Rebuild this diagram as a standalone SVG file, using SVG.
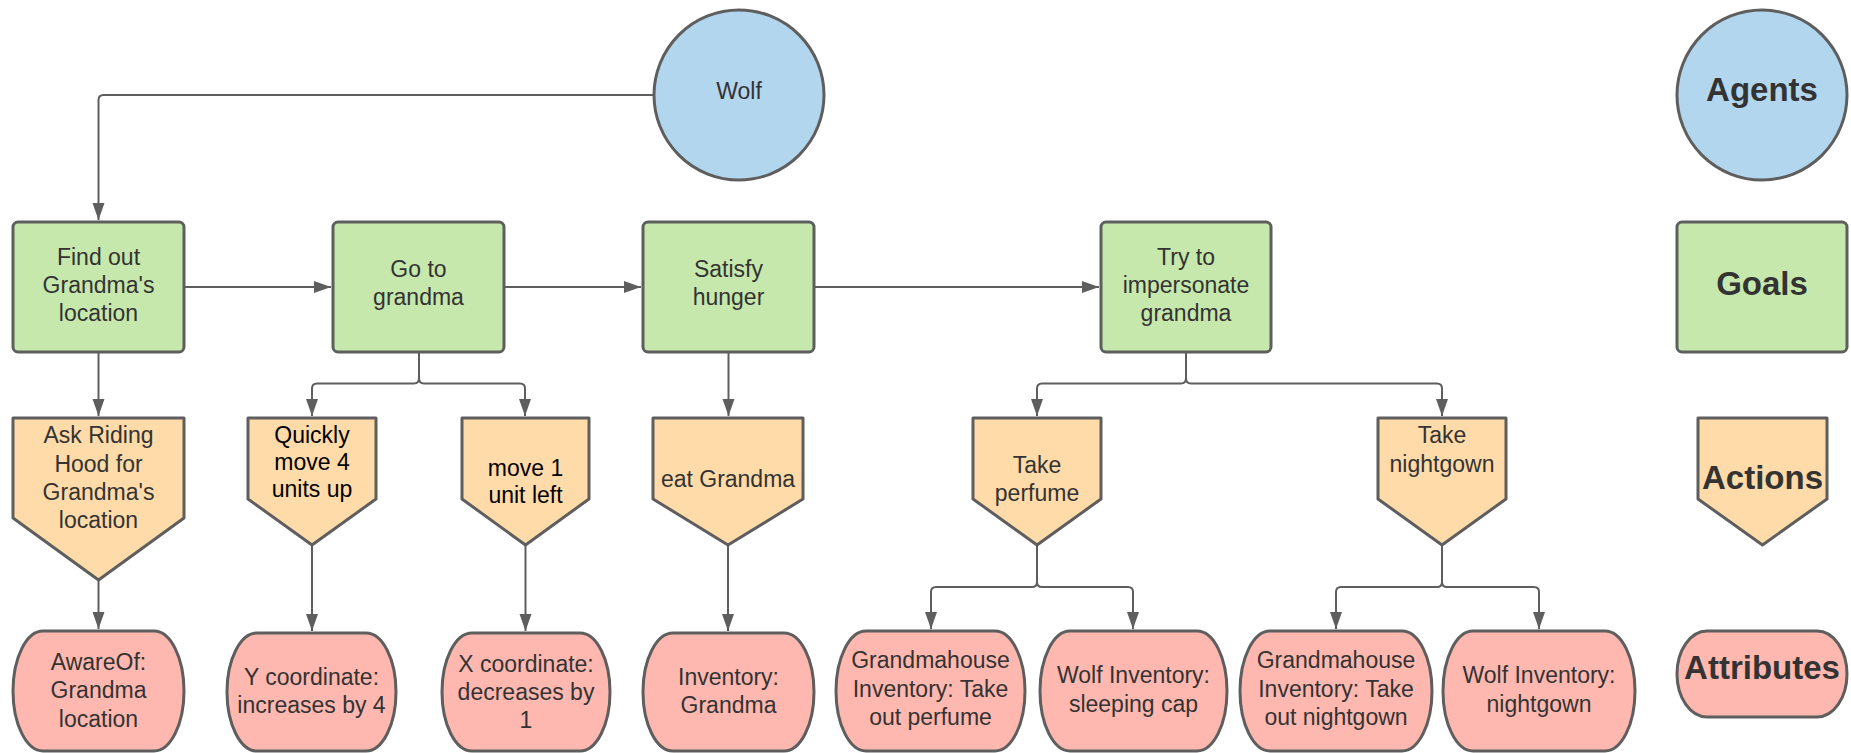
<svg xmlns="http://www.w3.org/2000/svg" width="1851" height="753" viewBox="0 0 1851 753">
<defs>
<marker id="arr" markerUnits="userSpaceOnUse" markerWidth="18" markerHeight="13" refX="17" refY="6" orient="auto">
<path d="M0,0 L17,6 L0,12 Z" fill="#5e5e5e"/>
</marker>
<style>
.agent{fill:#b3d6ef;stroke:#5e5e5e;stroke-width:3}
.goal{fill:#c7e8ac;stroke:#5e5e5e;stroke-width:3}
.act{fill:#ffdba9;stroke:#5e5e5e;stroke-width:3;stroke-linejoin:round}
.attr{fill:#ffb8b0;stroke:#5e5e5e;stroke-width:3}
.c{fill:none;stroke:#5e5e5e;stroke-width:2;marker-end:url(#arr)}
.cl{fill:none;stroke:#5e5e5e;stroke-width:2}
text{font-family:"Liberation Sans",Arial,sans-serif;font-size:23px;fill:#333;text-anchor:middle}
.k{fill:#000}
.b{font-weight:bold;font-size:33px}
</style>
</defs>
<rect width="1851" height="753" fill="#fff"/>

<g id="connectors">
<path class="c" d="M653,95 H103.5 Q98.5,95 98.5,100 V220"/>
<path class="c" d="M184,287 H331"/>
<path class="c" d="M504,287 H641"/>
<path class="c" d="M814,287 H1099"/>
<path class="c" d="M98.5,352 V416"/>
<path class="cl" d="M419,352 V378"/>
<path class="c" d="M419,378 Q419,383.5 414,383.5 H317 Q312,383.5 312,388.5 V416"/>
<path class="c" d="M419,378 Q419,383.5 424,383.5 H520 Q525,383.5 525,388.5 V416"/>
<path class="c" d="M728.5,352 V416"/>
<path class="cl" d="M1186,352 V378"/>
<path class="c" d="M1186,378 Q1186,383.5 1181,383.5 H1042 Q1037,383.5 1037,388.5 V416"/>
<path class="c" d="M1186,378 Q1186,383.5 1191,383.5 H1437 Q1442,383.5 1442,388.5 V416"/>
<path class="c" d="M98.5,580 V629"/>
<path class="c" d="M312,545 V631"/>
<path class="c" d="M525.5,545 V631"/>
<path class="c" d="M728,545 V631"/>
<path class="cl" d="M1037,545 V582"/>
<path class="c" d="M1037,582 Q1037,587 1032,587 H936 Q931,587 931,592 V629"/>
<path class="c" d="M1037,582 Q1037,587 1042,587 H1128 Q1133,587 1133,592 V629"/>
<path class="cl" d="M1442,545 V582"/>
<path class="c" d="M1442,582 Q1442,587 1437,587 H1341 Q1336,587 1336,592 V629"/>
<path class="c" d="M1442,582 Q1442,587 1447,587 H1534 Q1539,587 1539,592 V629"/>
</g>

<g id="wolf"><circle class="agent" cx="739" cy="95" r="85"/><text x="739" y="99">Wolf</text></g>
<g id="legend-agents"><circle class="agent" cx="1762" cy="95" r="85"/><text class="b" x="1762" y="101">Agents</text></g>

<g id="goal-find"><rect class="goal" x="13" y="222" width="171" height="130" rx="5"/>
<text x="98.5" y="265">Find out</text><text x="98.5" y="293">Grandma's</text><text x="98.5" y="321">location</text></g>
<g id="goal-go"><rect class="goal" x="333" y="222" width="171" height="130" rx="5"/>
<text x="418.5" y="277">Go to</text><text x="418.5" y="305">grandma</text></g>
<g id="goal-satisfy"><rect class="goal" x="643" y="222" width="171" height="130" rx="5"/>
<text x="728.5" y="277">Satisfy</text><text x="728.5" y="305">hunger</text></g>
<g id="goal-impersonate"><rect class="goal" x="1101" y="222" width="170" height="130" rx="5"/>
<text x="1186" y="265">Try to</text><text x="1186" y="293">impersonate</text><text x="1186" y="321">grandma</text></g>
<g id="legend-goals"><rect class="goal" x="1677" y="222" width="170" height="130" rx="5"/>
<text class="b" x="1762" y="295">Goals</text></g>

<g id="act-ask"><path class="act" d="M13,418 H184 V518 L98.5,580 L13,518 Z"/>
<text x="98.5" y="443">Ask Riding</text><text x="98.5" y="472">Hood for</text><text x="98.5" y="500">Grandma's</text><text x="98.5" y="528">location</text></g>
<g id="act-quickly"><path class="act" d="M248,418 H376 V499 L312,545 L248,499 Z"/>
<text class="k" x="312" y="443">Quickly</text><text class="k" x="312" y="470">move 4</text><text class="k" x="312" y="497">units up</text></g>
<g id="act-move"><path class="act" d="M462,418 H589 V499 L525.5,545 L462,499 Z"/>
<text class="k" x="525.5" y="476">move 1</text><text class="k" x="525.5" y="503">unit left</text></g>
<g id="act-eat"><path class="act" d="M653,418 H803 V499 L728,545 L653,499 Z"/>
<text x="728" y="487">eat Grandma</text></g>
<g id="act-perfume"><path class="act" d="M973,418 H1101 V499 L1037,545 L973,499 Z"/>
<text x="1037" y="473">Take</text><text x="1037" y="501">perfume</text></g>
<g id="act-nightgown"><path class="act" d="M1378,418 H1506 V499 L1442,545 L1378,499 Z"/>
<text x="1442" y="443">Take</text><text x="1442" y="472">nightgown</text></g>
<g id="legend-actions"><path class="act" d="M1698,418 H1827 V499 L1762.5,545 L1698,499 Z"/>
<text class="b" x="1762.5" y="489">Actions</text></g>

<g id="attr-aware"><path class="attr" d="M43,631 H154 A30,60 0 0 1 154,751 H43 A30,60 0 0 1 43,631 Z"/>
<text x="98.5" y="670">AwareOf:</text><text x="98.5" y="698">Grandma</text><text x="98.5" y="727">location</text></g>
<g id="attr-y"><path class="attr" d="M257,633 H366 A30,59 0 0 1 366,751 H257 A30,59 0 0 1 257,633 Z"/>
<text x="311.5" y="685">Y coordinate:</text><text x="311.5" y="713">increases by 4</text></g>
<g id="attr-x"><path class="attr" d="M472,633 H580 A30,59 0 0 1 580,751 H472 A30,59 0 0 1 472,633 Z"/>
<text x="526" y="672">X coordinate:</text><text x="526" y="700">decreases by</text><text x="526" y="728">1</text></g>
<g id="attr-inv"><path class="attr" d="M673,633 H784 A30,59 0 0 1 784,751 H673 A30,59 0 0 1 673,633 Z"/>
<text x="728.5" y="685">Inventory:</text><text x="728.5" y="713">Grandma</text></g>
<g id="attr-gh-perfume"><path class="attr" d="M866,631 H995 A30,60 0 0 1 995,751 H866 A30,60 0 0 1 866,631 Z"/>
<text x="930.5" y="668">Grandmahouse</text><text x="930.5" y="697">Inventory: Take</text><text x="930.5" y="725">out perfume</text></g>
<g id="attr-wolf-cap"><path class="attr" d="M1070,631 H1197 A30,60 0 0 1 1197,751 H1070 A30,60 0 0 1 1070,631 Z"/>
<text x="1133.5" y="683">Wolf Inventory:</text><text x="1133.5" y="712">sleeping cap</text></g>
<g id="attr-gh-nightgown"><path class="attr" d="M1270,631 H1402 A30,60 0 0 1 1402,751 H1270 A30,60 0 0 1 1270,631 Z"/>
<text x="1336" y="668">Grandmahouse</text><text x="1336" y="697">Inventory: Take</text><text x="1336" y="725">out nightgown</text></g>
<g id="attr-wolf-nightgown"><path class="attr" d="M1473,631 H1605 A30,60 0 0 1 1605,751 H1473 A30,60 0 0 1 1473,631 Z"/>
<text x="1539" y="683">Wolf Inventory:</text><text x="1539" y="712">nightgown</text></g>
<g id="legend-attributes"><path class="attr" d="M1707,631 H1817 A30,43 0 0 1 1817,717 H1707 A30,43 0 0 1 1707,631 Z"/>
<text class="b" x="1762" y="679">Attributes</text></g>
</svg>
